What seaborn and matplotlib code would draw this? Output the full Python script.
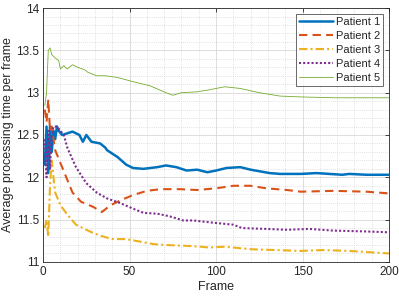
import matplotlib
matplotlib.use("Agg")
import matplotlib.pyplot as plt
import seaborn as sns
import numpy as np
from matplotlib.ticker import MultipleLocator

p1_x = [1, 2, 3, 4, 5, 6, 7, 8, 9, 11, 14, 17, 21, 23, 25, 28, 33, 36, 37, 43, 48, 52, 58, 66, 71, 77, 83, 89, 95, 100, 106, 114, 120, 131, 137, 149, 158, 173, 177, 187, 200]
p1_y = [12.15, 12.6, 12.05, 12.6, 12.3, 12.55, 12.45, 12.6, 12.55, 12.5, 12.52, 12.54, 12.5, 12.42, 12.5, 12.42, 12.4, 12.35, 12.32, 12.24, 12.15, 12.11, 12.1, 12.12, 12.14, 12.12, 12.08, 12.09, 12.06, 12.08, 12.11, 12.12, 12.09, 12.05, 12.04, 12.04, 12.05, 12.03, 12.04, 12.03, 12.03]

p2_x = [1, 2, 3, 4, 5, 6, 7, 10, 14, 17, 22, 29, 34, 39, 45, 52, 60, 68, 79, 89, 100, 110, 120, 129, 141, 149, 168, 187, 200]
p2_y = [12.8, 12.65, 12.92, 12.55, 12.6, 12.45, 12.32, 12.17, 11.97, 11.82, 11.71, 11.65, 11.59, 11.67, 11.73, 11.79, 11.84, 11.86, 11.86, 11.85, 11.87, 11.9, 11.9, 11.87, 11.85, 11.83, 11.84, 11.83, 11.81]

p3_x = [1, 2, 3, 4, 5, 6, 7, 10, 14, 19, 27, 33, 40, 48, 56, 64, 71, 83, 91, 96, 105, 120, 149, 162, 177, 200]
p3_y = [11.4, 11.5, 11.3, 11.9, 12.2, 12.0, 11.82, 11.67, 11.56, 11.44, 11.36, 11.31, 11.27, 11.27, 11.24, 11.21, 11.2, 11.19, 11.18, 11.17, 11.18, 11.15, 11.13, 11.14, 11.13, 11.1]

p4_x = [1, 2, 3, 4, 5, 6, 8, 10, 12, 14, 19, 25, 31, 37, 44, 52, 58, 66, 73, 81, 87, 91, 100, 110, 115, 129, 141, 154, 168, 187, 200]
p4_y = [12.45, 12.0, 12.55, 12.1, 12.5, 12.6, 12.6, 12.55, 12.5, 12.35, 12.12, 11.93, 11.82, 11.75, 11.7, 11.63, 11.58, 11.57, 11.54, 11.49, 11.49, 11.48, 11.46, 11.44, 11.4, 11.39, 11.38, 11.39, 11.37, 11.36, 11.35]

p5_x = [1, 2, 3, 4, 5, 7, 9, 10, 11, 12, 14, 17, 20, 24, 26, 31, 36, 43, 52, 62, 71, 75, 80, 89, 95, 105, 114, 125, 137, 149, 168, 200]
p5_y = [12.85, 13.0, 13.5, 13.53, 13.45, 13.41, 13.38, 13.28, 13.3, 13.32, 13.28, 13.33, 13.3, 13.27, 13.24, 13.2, 13.2, 13.18, 13.13, 13.08, 13.0, 12.97, 13.0, 13.01, 13.03, 13.07, 13.05, 13.0, 12.96, 12.95, 12.94, 12.94]

labels = ["Patient 1", "Patient 2", "Patient 3", "Patient 4", "Patient 5"]
series = [(p1_x, p1_y), (p2_x, p2_y), (p3_x, p3_y), (p4_x, p4_y), (p5_x, p5_y)]
colors = ["#0072BD", "#D95319", "#EDB120", "#7E2F8E", "#77AC30"]
styles = ["-", (0, (4, 2.5)), (0, (4, 1.5, 1, 1.5)), (0, (1, 1)), "-"]
widths = [1.8, 1.5, 1.5, 1.5, 0.6]

sns.set_theme(style="white")
plt.rcParams['font.family'] = ['Liberation Sans', 'DejaVu Sans']

fig = plt.figure(figsize=(3.99, 2.99), dpi=100)
ax = fig.add_axes([0.108, 0.124, 0.867, 0.849])

for (xs, ys), lab, c, ls, lw in zip(series, labels, colors, styles, widths):
    sns.lineplot(x=xs, y=ys, ax=ax, color=c, linestyle=ls, linewidth=lw, label=lab,
                 estimator=None, sort=False)

ax.set_xlim(0, 200)
ax.set_ylim(11, 14)
ax.xaxis.set_major_locator(MultipleLocator(50))
ax.xaxis.set_minor_locator(MultipleLocator(10))
ax.yaxis.set_major_locator(MultipleLocator(0.5))
ax.yaxis.set_minor_locator(MultipleLocator(0.1))
ax.yaxis.set_major_formatter(matplotlib.ticker.FuncFormatter(lambda v, p: f"{v:g}"))
ax.grid(True, which="major", color="#d8d8d8", linewidth=0.6, linestyle="-")
ax.grid(True, which="minor", color="#c8c8c8", linewidth=0.5, linestyle=(0, (1, 2)))
ax.set_axisbelow(True)
ax.tick_params(which="both", direction="in", top=True, right=True, length=3, width=0.6,
               labelsize=8.5, colors="#262626", pad=3)
ax.tick_params(which="minor", length=0)
for s in ax.spines.values():
    s.set_color("#262626")
    s.set_linewidth(0.6)
ax.set_xlabel("Frame", fontsize=9, color="#262626", labelpad=2)
ax.set_ylabel("Average processing time per frame", fontsize=9, color="#262626", labelpad=1.5)

leg = ax.legend(loc="upper right", fontsize=8, frameon=True, fancybox=False,
                edgecolor="#262626", handlelength=3.0, handletextpad=0.3,
                borderpad=0.3, labelspacing=0.35, borderaxespad=0.5)
leg.get_frame().set_linewidth(0.6)

fig.savefig("out.png", dpi=100)
